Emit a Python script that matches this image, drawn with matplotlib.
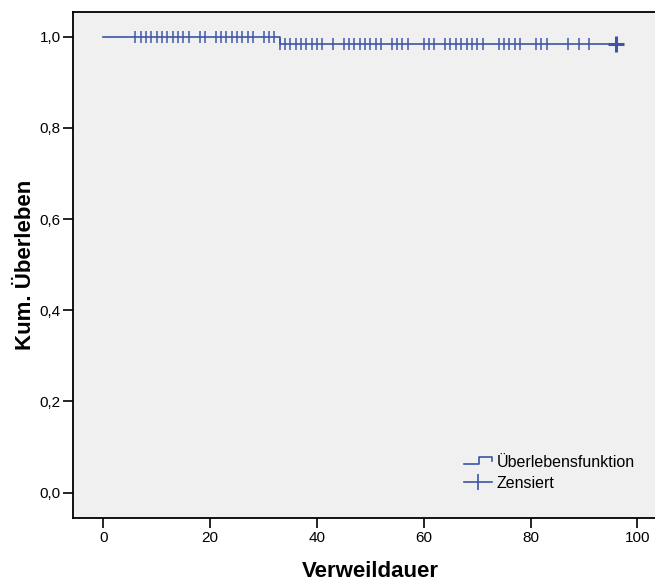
import matplotlib
matplotlib.use("Agg")
import matplotlib.pyplot as plt
from matplotlib.lines import Line2D
from matplotlib.legend_handler import HandlerBase

plt.rcParams['font.family'] = ['Liberation Sans', 'DejaVu Sans']

# Kaplan-Meier data
event_times = [0, 33, 96]
survival = [1.0, 0.984, 0.984]
censored = [6, 7, 8, 9, 10, 11, 12, 13, 14, 15, 16, 18, 19, 21, 22, 23, 24, 25,
            26, 27, 28, 30, 31, 32,
            33, 34, 35, 36, 37, 38, 39, 40, 41, 43, 45, 46, 47, 48, 49, 50, 51, 52,
            54, 55, 56, 57, 60, 61, 62, 64, 65, 66, 67, 68, 69, 70, 71, 74, 75,
            76, 77, 78, 81, 82, 83, 87, 89, 91]
last_censor = [96]

x_ticks = [0, 20, 40, 60, 80, 100]
y_ticks = [0.0, 0.2, 0.4, 0.6, 0.8, 1.0]
y_ticklabels = ["0,0", "0,2", "0,4", "0,6", "0,8", "1,0"]

blue = "#3D55A6"


def surv_at(t):
    s = survival[0]
    for et, sv in zip(event_times, survival):
        if t >= et:
            s = sv
    return s


class StepHandler(HandlerBase):
    def create_artists(self, legend, orig_handle, xdescent, ydescent,
                       width, height, fontsize, trans):
        x0, x1 = -xdescent, -xdescent + width
        xm = x0 + width * 0.55
        y_lo, y_hi = -ydescent + height * 0.25, -ydescent + height * 0.85
        ln = Line2D([x0, xm, xm, x1, x1], [y_lo, y_lo, y_hi, y_hi, y_hi - height * 0.35],
                    color=blue, lw=1.2, transform=trans)
        return [ln]


fig = plt.figure(figsize=(6.55, 5.81), dpi=100)
ax = fig.add_axes([0.1122, 0.1084, 0.8878, 0.8709])
ax.set_facecolor("#F0F0F0")

step_line, = ax.step(event_times, survival, where="post", color=blue, lw=1.2)
cy = [surv_at(t) for t in censored]
ax.plot(censored, cy, linestyle="none", marker="|", markersize=9, mew=1.2,
        color=blue, alpha=0.9)
ax.plot(last_censor, [surv_at(t) for t in last_censor], linestyle="none", marker="+",
        markersize=11, mew=2.2, color=blue)

ax.set_xlim(-5.6, 103.3)
ax.set_ylim(-0.0555, 1.054)
ax.set_xticks(x_ticks)
ax.set_xticklabels([str(v) for v in x_ticks])
ax.set_yticks(y_ticks)
ax.set_yticklabels(y_ticklabels)
ax.tick_params(direction="out", length=7, width=1.2, labelsize=11, colors="black", pad=2)

for side in ["left", "bottom", "top"]:
    ax.spines[side].set_linewidth(1.3)
    ax.spines[side].set_color("black")
ax.spines["right"].set_visible(False)

ax.set_xlabel("Verweildauer", fontsize=16, fontweight="bold", va="center")
ax.set_ylabel("Kum. Überleben", fontsize=16, fontweight="bold", va="center")
ax.xaxis.set_label_coords(0.51, -0.105)
ax.yaxis.set_label_coords(-0.083, 0.5)

cens_handle = Line2D([], [], color=blue, lw=1.2, marker="|", markersize=11, mew=1.2)
ax.legend([step_line, cens_handle], ["Überlebensfunktion", "Zensiert"],
          handler_map={step_line: StepHandler()}, loc="lower right",
          bbox_to_anchor=(0.99, 0.025), frameon=False, fontsize=11.5,
          handlelength=1.75, handletextpad=0.3, labelspacing=0.4)

fig.savefig("out.png", dpi=100)
